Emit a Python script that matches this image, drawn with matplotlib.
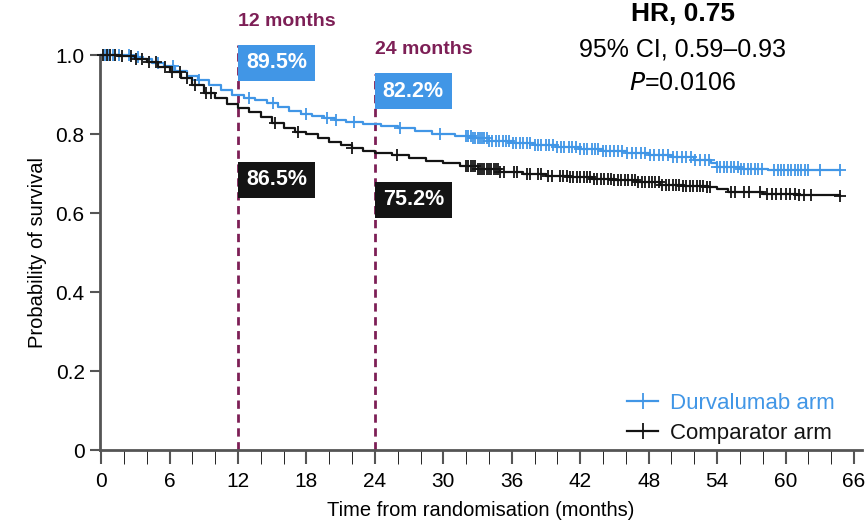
import numpy as np
import matplotlib
matplotlib.use('Agg')
from matplotlib import pyplot as plt
from matplotlib.lines import Line2D

plt.rcParams['font.family'] = ['Liberation Sans', 'DejaVu Sans']

# KM step curves (months, survival)
durva_t = [0, 2.5, 3.5, 4.5, 5.5, 6.5, 7.5, 8.5, 9.5, 10.5, 11.5, 12.5, 13.5, 14.5,
           15.5, 16.5, 17.5, 18.5, 19.5, 20.5, 21.5, 23, 24.5, 26, 27.5, 29, 31,
           32.5, 34, 36, 38, 40, 42, 44, 46, 48, 50, 52, 53.5, 54, 56, 58.5, 64.8]
durva_s = [1.0, 0.996, 0.99, 0.98, 0.972, 0.96, 0.948, 0.937, 0.925, 0.912, 0.9, 0.892,
           0.885, 0.878, 0.868, 0.858, 0.85, 0.845, 0.84, 0.835, 0.83, 0.825, 0.82,
           0.815, 0.808, 0.8, 0.795, 0.79, 0.783, 0.777, 0.772, 0.766, 0.762, 0.757,
           0.752, 0.748, 0.742, 0.735, 0.726, 0.716, 0.712, 0.709, 0.709]
comp_t = [0, 1.5, 3, 4, 5, 6, 7, 8, 9, 10, 11, 12, 13, 14, 15, 16, 17, 18, 19, 20,
          21, 22, 23, 24, 25.5, 27, 28.5, 30, 31.5, 33, 35, 37, 39, 41, 43, 45, 47,
          49, 51, 53, 54, 55, 58, 61, 64.8]
comp_s = [1.0, 0.997, 0.99, 0.982, 0.97, 0.958, 0.943, 0.925, 0.905, 0.89, 0.877,
          0.866, 0.855, 0.842, 0.828, 0.815, 0.806, 0.8, 0.79, 0.78, 0.772, 0.765,
          0.758, 0.752, 0.748, 0.74, 0.732, 0.727, 0.72, 0.712, 0.705, 0.7, 0.694,
          0.69, 0.686, 0.683, 0.678, 0.672, 0.669, 0.667, 0.66, 0.652, 0.648, 0.645,
          0.643]

# censoring times
durva_cens = [0.3, 0.6, 1.0, 1.6, 2.4, 3.2, 5.0, 6.3, 8.6, 13.0, 15.1, 18.0, 19.8,
              20.6, 22.2, 26.2, 29.7,
              32.0, 32.2, 32.4, 32.6, 32.8, 33.0, 33.2, 33.4, 33.6, 33.8, 34.0, 34.3,
              34.6, 34.9, 35.2, 35.5, 35.8, 36.1, 36.4, 36.7, 37.0, 37.3, 37.6, 38.0,
              38.3, 38.6, 39.0, 39.3, 39.6, 40.0, 40.3, 40.6, 41.0, 41.3, 41.6, 42.0,
              42.3, 42.6, 43.0, 43.3, 43.6, 44.0, 44.3, 44.6, 45.0, 45.3, 45.7, 46.1,
              46.5, 46.9, 47.3, 47.7, 48.1, 48.5, 48.9, 49.3, 49.7, 50.1, 50.5, 50.9,
              51.3, 51.7, 52.1, 52.5, 52.9, 53.3, 54.0, 54.3, 54.6, 54.9, 55.2, 55.5,
              55.8, 56.1, 56.4, 56.7, 57.0, 57.3, 57.6, 57.9, 59.0, 59.3, 59.6, 59.9,
              60.2, 60.5, 60.8, 61.1, 61.4, 61.7, 62.0, 63.0, 64.8]
comp_cens = [0.2, 0.5, 0.8, 1.2, 1.8, 2.6, 3.1, 3.6, 4.2, 4.8, 5.6, 6.2, 6.9, 7.5,
             8.2, 9.2, 9.6, 15.2, 17.3, 22.0, 25.9,
             32.0, 32.2, 32.4, 32.6, 32.8, 33.0, 33.2, 33.4, 33.6, 33.8, 34.0, 34.2,
             34.4, 34.6, 34.8, 35.0, 35.3, 36.2, 36.5, 37.3, 37.6, 38.3, 38.6, 39.2,
             39.5, 40.2, 40.5, 40.8, 41.1, 41.4, 41.7, 42.0, 42.3, 42.6, 42.9, 43.2,
             43.5, 43.8, 44.1, 44.4, 44.7, 45.0, 45.3, 45.6, 45.9, 46.2, 46.5, 46.8,
             47.1, 47.4, 47.7, 48.0, 48.3, 48.6, 48.9, 49.2, 49.5, 49.8, 50.1, 50.4,
             50.7, 51.0, 51.3, 51.6, 51.9, 52.2, 52.5, 52.8, 53.1, 53.4, 55.2, 55.6,
             56.4, 56.8, 57.8, 58.4, 58.8, 59.2, 59.6, 60.0, 60.4, 60.8, 61.2, 61.6,
             62.2, 64.8]

labels = ['Durvalumab arm', 'Comparator arm']
landmarks = [12, 24]
durva_land = ['89.5%', '82.2%']
comp_land = ['86.5%', '75.2%']
xticks = np.arange(0, 67, 6)
yticks = [0, 0.2, 0.4, 0.6, 0.8, 1.0]
ytick_labels = ['0', '0.2', '0.4', '0.6', '0.8', '1.0']

blue = '#4196e6'
black = '#141414'
purple = '#7d1f56'
grey = '#555555'


def step_at(t, times, surv):
    idx = np.searchsorted(times, t, side='right') - 1
    return np.asarray(surv)[idx]


fig = plt.figure(figsize=(8.68, 5.27), dpi=100)
ax = fig.add_axes([0.1152, 0.146, 0.8778, 0.7496])

for t, s, c, col in [(durva_t, durva_s, durva_cens, blue),
                     (comp_t, comp_s, comp_cens, black)]:
    ax.plot(t, s, drawstyle='steps-post', color=col, lw=1.6, clip_on=False, zorder=3)
    ax.plot(c, step_at(np.array(c), t, s), ls='none', marker='+', ms=9, mew=1.3,
            color=col, clip_on=False, zorder=3)

# landmark lines
tops = [1.025, 0.952]
for m, top in zip(landmarks, tops):
    ax.plot([m, m], [0, top], ls=(0, (3, 2)), color=purple, lw=2, clip_on=False, zorder=2)

ax.text(12, 1.084, '12 months', color=purple, fontsize=14, fontweight='bold',
        ha='left', va='center', clip_on=False)
ax.text(24, 1.013, '24 months', color=purple, fontsize=14, fontweight='bold',
        ha='left', va='center', clip_on=False)

durva_y = [0.98, 0.908]
comp_y = [0.684, 0.633]
for m, txt, y in zip(landmarks, durva_land, durva_y):
    ax.text(m + 0.7, y, txt, color='white', fontsize=15.5, fontweight='bold', ha='left',
            va='center', zorder=4, clip_on=False,
            bbox=dict(boxstyle='square,pad=0.35', fc=blue, ec='none'))
for m, txt, y in zip(landmarks, comp_land, comp_y):
    ax.text(m + 0.7, y, txt, color='white', fontsize=15.5, fontweight='bold', ha='left',
            va='center', zorder=4, clip_on=False,
            bbox=dict(boxstyle='square,pad=0.35', fc=black, ec='none'))

# HR annotation
ax.text(51.0, 1.104, 'HR, 0.75', fontsize=19, fontweight='bold', ha='center',
        va='center', clip_on=False)
ax.text(51.0, 1.015, '95% CI, 0.59\u20130.93', fontsize=18, ha='center', va='center',
        clip_on=False)
ax.text(51.0, 0.928, '$\\it{P}$=0.0106', fontsize=18, ha='center', va='center',
        clip_on=False)

handles = [Line2D([], [], color=blue, marker='+', ms=12, mew=1.3, lw=1.6),
           Line2D([], [], color=black, marker='+', ms=12, mew=1.3, lw=1.6)]
leg = ax.legend(handles, labels, loc='lower right', bbox_to_anchor=(0.99, -0.035),
                frameon=False, fontsize=16, handlelength=1.4, handletextpad=0.5,
                labelspacing=0.4)
leg.get_texts()[0].set_color(blue)
leg.get_texts()[1].set_color(black)

ax.set_xlim(-0.1, 66.7)
ax.set_ylim(0, 1.0)
ax.set_xticks(xticks)
ax.set_xticks(np.arange(0, 67, 2), minor=True)
ax.set_yticks(yticks)
ax.set_yticklabels(ytick_labels)
ax.tick_params(axis='both', labelsize=15, color=grey, width=1.5, pad=4)
ax.tick_params(axis='x', which='both', length=10, direction='out', pad=6)
ax.tick_params(axis='y', length=7)

for side in ['top', 'right']:
    ax.spines[side].set_visible(False)
for side in ['left', 'bottom']:
    ax.spines[side].set_color(grey)
    ax.spines[side].set_linewidth(2)

ax.set_xlabel('Time from randomisation (months)', fontsize=14.5, labelpad=7)
ax.set_ylabel('Probability of survival', fontsize=14.5, labelpad=6)

plt.savefig('out.png', dpi=100)
plt.close()
